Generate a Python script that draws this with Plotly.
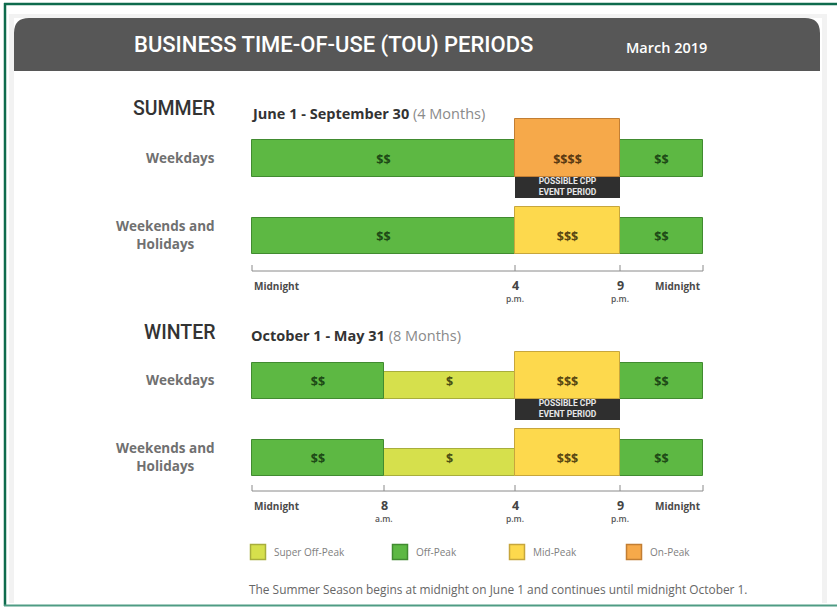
import numpy as np
import plotly.graph_objects as go

W, H = 837, 607

# ---------------- data ----------------
hour_breaks = [0, 8, 16, 21, 24]
tick_big = ["Midnight", "8", "4", "9", "Midnight"]
tick_small = ["", "a.m.", "p.m.", "p.m.", ""]

periods = ["Super Off-Peak", "Off-Peak", "Mid-Peak", "On-Peak"]
price_labels = ["$", "$$", "$$$", "$$$$"]

summer_weekday_start = [0, 16, 21]
summer_weekday_end = [16, 21, 24]
summer_weekday_period = ["Off-Peak", "On-Peak", "Off-Peak"]

summer_weekend_start = [0, 16, 21]
summer_weekend_end = [16, 21, 24]
summer_weekend_period = ["Off-Peak", "Mid-Peak", "Off-Peak"]

winter_weekday_start = [0, 8, 16, 21]
winter_weekday_end = [8, 16, 21, 24]
winter_weekday_period = ["Off-Peak", "Super Off-Peak", "Mid-Peak", "Off-Peak"]

winter_weekend_start = [0, 8, 16, 21]
winter_weekend_end = [8, 16, 21, 24]
winter_weekend_period = ["Off-Peak", "Super Off-Peak", "Mid-Peak", "Off-Peak"]

cpp_start, cpp_end = 16, 21

# ---------------- style / layout ----------------
FONT = "Open Sans, Liberation Sans, sans-serif"
NARROW = "Roboto, Liberation Sans, sans-serif"

fill = {"Super Off-Peak": "#D6E04C", "Off-Peak": "#5DB843",
        "Mid-Peak": "#FDD94D", "On-Peak": "#F6A94A"}
edge = {"Super Off-Peak": "#A8AE3C", "Off-Peak": "#418B30",
        "Mid-Peak": "#C7A63C", "On-Peak": "#C27E33"}
txtc = {"Super Off-Peak": "#4C5014", "Off-Peak": "#1E4A16",
        "Mid-Peak": "#5A4812", "On-Peak": "#5A3A12"}
bar_h = {"Super Off-Peak": 27.5, "Off-Peak": 36.5, "Mid-Peak": 47, "On-Peak": 58}

# piecewise schematic time scale (pixels from the axis origin)
AX0 = 252
axis_offsets = [0, 132, 263, 368, 451]


def pos(h):
    return AX0 + np.interp(h, hour_breaks, axis_offsets)


rows = [
    dict(start=summer_weekday_start, end=summer_weekday_end, per=summer_weekday_period, bottom=176.5, cpp=True),
    dict(start=summer_weekend_start, end=summer_weekend_end, per=summer_weekend_period, bottom=254, cpp=False),
    dict(start=winter_weekday_start, end=winter_weekday_end, per=winter_weekday_period, bottom=399, cpp=True),
    dict(start=winter_weekend_start, end=winter_weekend_end, per=winter_weekend_period, bottom=476, cpp=False),
]
axes_info = [dict(y=271, hours=[0, 16, 21, 24]), dict(y=491, hours=[0, 8, 16, 21, 24])]

fig = go.Figure()

# bars, one trace per period
for p in periods:
    base, length, yc, wid = [], [], [], []
    for r in rows:
        for s, e, q in zip(r["start"], r["end"], r["per"]):
            if q == p:
                base.append(pos(s))
                length.append(pos(e) - pos(s))
                yc.append(r["bottom"] - bar_h[p] / 2)
                wid.append(bar_h[p])
    if base:
        fig.add_trace(go.Bar(orientation="h", base=base, x=length, y=yc, width=wid,
                             marker=dict(color=fill[p], line=dict(color=edge[p], width=1)),
                             hoverinfo="skip", showlegend=False))

# CPP boxes
cb, cl, cy = [], [], []
for r in rows:
    if r["cpp"]:
        cb.append(pos(cpp_start))
        cl.append(pos(cpp_end) - pos(cpp_start))
        cy.append(r["bottom"] + 10.5)
fig.add_trace(go.Bar(orientation="h", base=cb, x=cl, y=cy, width=[21] * len(cb),
                     marker=dict(color="#2F2F2F", line=dict(width=0)),
                     hoverinfo="skip", showlegend=False))
fig.add_trace(go.Scatter(x=[pos((cpp_start + cpp_end) / 2)] * len(cy), y=cy, mode="text",
                         text=["POSSIBLE CPP<br>EVENT PERIOD"] * len(cy),
                         textfont=dict(family=NARROW, size=8.5, color="#E6E6E6", weight="bold"),
                         hoverinfo="skip", showlegend=False))

# price labels
for p, lab in zip(periods, price_labels):
    xs, ys = [], []
    for r in rows:
        for s, e, q in zip(r["start"], r["end"], r["per"]):
            if q == p:
                xs.append((pos(s) + pos(e)) / 2)
                ys.append(r["bottom"] - 16)
    if xs:
        fig.add_trace(go.Scatter(x=xs, y=ys, mode="text", text=[lab] * len(xs),
                                 textfont=dict(family=FONT, size=12.5, color=txtc[p], weight="bold"),
                                 hoverinfo="skip", showlegend=False))

annotations = []


def ann(x, y, text, size, color, anchor="center", family=FONT, weight=None, yanchor="middle"):
    f = dict(family=family, size=size, color=color)
    if weight:
        f["weight"] = weight
    annotations.append(dict(x=x, y=y, xref="x", yref="y", text=text, showarrow=False,
                            xanchor=anchor, yanchor=yanchor, font=f))


# time axes
for a in axes_info:
    hs = a["hours"]
    fig.add_trace(go.Scatter(x=[pos(0), pos(24)], y=[a["y"], a["y"]], mode="lines",
                             line=dict(color="#8A8A8A", width=1), hoverinfo="skip", showlegend=False))
    tx, ty = [], []
    for h in hs:
        tx += [pos(h), pos(h), None]
        ty += [a["y"] - 6, a["y"], None]
    fig.add_trace(go.Scatter(x=tx, y=ty, mode="lines", line=dict(color="#8A8A8A", width=1),
                             hoverinfo="skip", showlegend=False))
    for h in hs:
        i = hour_breaks.index(h)
        if tick_big[i] == "Midnight":
            ann(pos(h), a["y"] + 15, "Midnight", 10, "#4a4a4a",
                anchor="left" if h == 0 else "right", weight="bold")
        else:
            ann(pos(h), a["y"] + 14.5, tick_big[i], 12.5, "#444", weight="bold")
            ann(pos(h), a["y"] + 27.5, tick_small[i], 8.5, "#555", weight=600)

# season headings / row labels
ann(217, 108, "SUMMER", 19.5, "#333", anchor="right", family=NARROW, weight=500)
ann(249, 113, "<b>June 1 - September 30</b> <span style='color:#8a8a8a'>(4 Months)</span>", 14.5, "#333", anchor="left")
ann(217, 332, "WINTER", 19.5, "#333", anchor="right", family=NARROW, weight=500)
ann(249, 335, "<b>October 1 - May 31</b> <span style='color:#8a8a8a'>(8 Months)</span>", 14.5, "#333", anchor="left")
for r, lab in zip(rows, ["Weekdays", "Weekends and<br>Holidays", "Weekdays", "Weekends and<br>Holidays"]):
    ann(217, r["bottom"] - 19, lab, 13.5, "#707070", anchor="right", weight="bold")

# legend
legend_x = [250, 392, 509, 626]
for p, lx in zip(periods, legend_x):
    fig.add_trace(go.Scatter(x=[lx + 8], y=[552], mode="markers",
                             marker=dict(symbol="square", size=15, color=fill[p],
                                         line=dict(color=edge[p], width=1.5)),
                             hoverinfo="skip", showlegend=False))
    ann(lx + 22, 552, p, 10, "#808080", anchor="left")

ann(247, 589, "The Summer Season begins at midnight on June 1 and continues until midnight October 1.",
    11.9, "#666", anchor="left")

# header
ann(333, 45, "BUSINESS TIME-OF-USE (TOU) PERIODS", 22, "white", family=NARROW, weight=500)
ann(666, 47, "March 2019", 14.5, "white", weight=600)

shapes = [
    # card shadow and card
    dict(type="rect", x0=9, x1=827, y0=14, y1=603, fillcolor="#F2F2F2", line=dict(width=0), layer="below"),
    dict(type="rect", x0=14, x1=822, y0=18, y1=603, fillcolor="white", line=dict(width=0), layer="below"),
    # header with rounded top corners
    dict(type="path", path="M 14 71 L 14 33 Q 14 18 29 18 L 805 18 Q 820 18 820 33 L 820 71 Z",
         fillcolor="#575757", line=dict(width=0), layer="below"),
    # green frame
    dict(type="line", x0=5, x1=5, y0=3, y1=606, line=dict(color="#0E6B4D", width=2.5), layer="above"),
    dict(type="line", x0=4, x1=837, y0=4, y1=4, line=dict(color="#0E6B4D", width=2.5), layer="above"),
    dict(type="line", x0=4, x1=837, y0=605.5, y1=605.5, line=dict(color="#4E9C84", width=2), layer="above"),
]

fig.update_layout(
    width=W, height=H, margin=dict(l=0, r=0, t=0, b=0),
    paper_bgcolor="white", plot_bgcolor="rgba(0,0,0,0)",
    barmode="overlay", bargap=0,
    xaxis=dict(range=[0, W], visible=False, fixedrange=True),
    yaxis=dict(range=[H, 0], visible=False, fixedrange=True),
    annotations=annotations, shapes=shapes, showlegend=False,
)

fig.write_html("out.html", config={"displayModeBar": False},
               post_script="document.body.style.margin='0';document.documentElement.style.overflow='hidden';document.body.style.overflow='hidden';")
